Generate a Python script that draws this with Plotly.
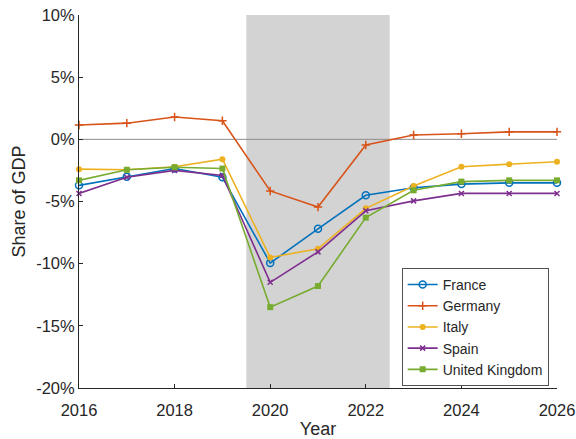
import plotly.graph_objects as go

years = list(range(2016, 2027))
france = [-3.7, -3.0, -2.35, -3.05, -9.95, -7.2, -4.5, -3.9, -3.6, -3.5, -3.5]
germany = [1.15, 1.3, 1.8, 1.5, -4.15, -5.45, -0.45, 0.35, 0.45, 0.6, 0.6]
italy = [-2.4, -2.45, -2.2, -1.6, -9.5, -8.8, -5.55, -3.75, -2.2, -2.0, -1.8]
spain = [-4.35, -3.05, -2.5, -2.9, -11.5, -9.05, -5.75, -4.95, -4.35, -4.35, -4.35]
uk = [-3.3, -2.45, -2.25, -2.35, -13.5, -11.8, -6.3, -4.1, -3.4, -3.3, -3.3]
shade_start, shade_end = 2019.5, 2022.5
yticks = [-20, -15, -10, -5, 0, 5, 10]
yticklabels = ["-20%", "-15%", "-10%", "-5%", "0%", "5%", "10%"]
xticks = [2016, 2018, 2020, 2022, 2024, 2026]

series = [
    ("France", france, "#0072BD", dict(symbol="circle-open", size=7, line=dict(width=1.5))),
    ("Germany", germany, "#D95319", dict(symbol="cross-thin", size=6, line=dict(width=1.5, color="#D95319"))),
    ("Italy", italy, "#EDB120", dict(symbol="circle", size=6)),
    ("Spain", spain, "#7E2F8E", dict(symbol="x-thin", size=5, line=dict(width=1.5, color="#7E2F8E"))),
    ("United Kingdom", uk, "#77AC30", dict(symbol="square", size=6)),
]

fig = go.Figure()
for name, vals, color, mk in series:
    m = dict(mk)
    m["color"] = color
    fig.add_trace(go.Scatter(x=years, y=vals, name=name, mode="lines+markers",
                             line=dict(color=color, width=1.6), marker=m, cliponaxis=False))

fig.add_shape(type="rect", xref="x", yref="y", x0=shade_start, x1=shade_end, y0=-20, y1=10,
              fillcolor="#d3d3d3", line=dict(width=0), layer="below")
fig.add_shape(type="line", xref="x", yref="y", x0=2016, x1=2026, y0=0, y1=0,
              line=dict(color="#8c8c8c", width=1), layer="below")

ff = "Liberation Sans, Arial, sans-serif"
fig.update_layout(
    width=576, height=439,
    margin=dict(l=79, r=19, t=15, b=51),
    paper_bgcolor="white", plot_bgcolor="white",
    font=dict(family=ff, size=16, color="#262626"),
    showlegend=True,
    legend=dict(x=0.983, y=0.005, xanchor="right", yanchor="bottom",
                bgcolor="white", bordercolor="#262626", borderwidth=0.8,
                font=dict(family=ff, size=14, color="#262626"),
                tracegroupgap=0, itemwidth=30),
    xaxis=dict(range=[2016, 2026], tickvals=xticks, ticks="inside", ticklen=4,
               tickcolor="#262626", showline=True, linecolor="#262626", linewidth=1,
               showgrid=False, zeroline=False, mirror=False, automargin=False,
               ticklabelstandoff=7, tickfont=dict(size=16.5),
               title=dict(text="Year", font=dict(size=18), standoff=9)),
    yaxis=dict(range=[-20, 10], tickvals=yticks, ticktext=yticklabels, ticks="inside", ticklen=4,
               tickcolor="#262626", showline=True, linecolor="#262626", linewidth=1,
               showgrid=False, zeroline=False, automargin=False, tickfont=dict(size=16.5),
               title=dict(text="Share of GDP", font=dict(size=18), standoff=5)),
)

fig.write_html("out.html", config=dict(displayModeBar=False),
               post_script="document.body.style.margin='0px';document.body.style.overflow='hidden';")
